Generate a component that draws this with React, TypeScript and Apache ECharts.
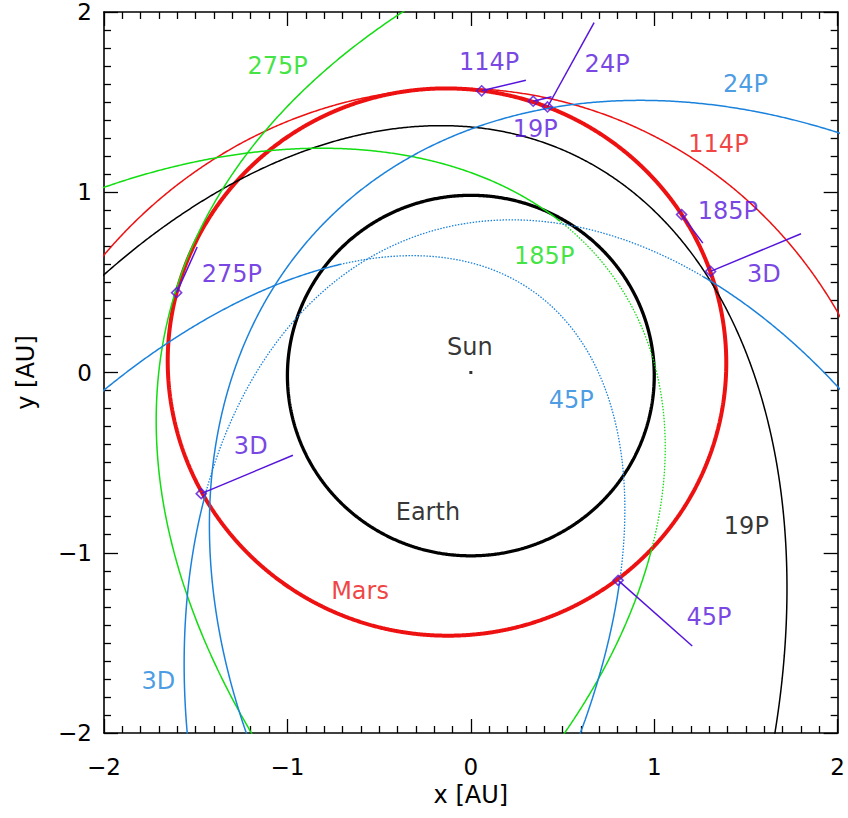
import React, { useEffect, useRef } from 'react';
import * as echarts from 'echarts';

// Orbit ellipses in the x-y plane [AU]:
// [centerX, centerY, semiAxis1, semiAxis2, tiltDeg]
const earthEllipse = [0.0, -0.017, 1.0, 1.0, 0];
const marsEllipse = [-0.130, 0.058, 1.5237, 1.517, 336];
const ellipse19P = [-1.0518, -2.4058, 2.5078, 3.9581, -22.8464];
const ellipse114P = [-0.1495, -1.0696, 2.4868, 2.6535, -12.192];
const ellipse275P = [7.8528, -2.3023, 4.8496, 9.8554, 74.0227];
const ellipse185P = [-1.8718, -1.349, 2.1836, 3.2483, -54.4309];
const ellipse24P = [1.889, -1.8172, 2.796, 3.7731, 44.6226];
const ellipse3D = [0.8313, -2.4575, 2.2456, 3.4072, 18.9166];
const ellipse45P = [-1.5255, -2.2249, 1.7924, 3.2613, -34.4998];

const cometEllipses = [ellipse19P, ellipse114P, ellipse275P, ellipse185P, ellipse24P, ellipse3D, ellipse45P];
const cometColors = ['#000000', '#ee1111', '#11dd11', '#11dd11', '#1a82dc', '#1a82dc', '#1a82dc'];
// heliocentric longitude range [deg] drawn dotted (null = all solid)
const dottedFromDeg = [null, null, null, -45, null, 23, -55];
const dottedToDeg = [null, null, null, 60, null, 204.5, 140];

// node markers (diamonds) and their direction lines
const nodeX = [0.059, 0.340, 0.418, 1.149, 1.307, -1.604, -1.470, 0.803];
const nodeY = [1.563, 1.505, 1.473, 0.876, 0.561, 0.443, -0.672, -1.153];
const nodeEndX = [0.300, 0.440, 0.672, 1.265, 1.800, -1.492, -0.970, 1.207];
const nodeEndY = [1.621, 1.530, 1.941, 0.718, 0.770, 0.696, -0.459, -1.517];

const nodeLabels = ['114P', '24P', '19P', '185P', '3D', '275P', '3D', '45P'];
const nodeLabelX = [0.10, 0.743, 0.351, 1.401, 1.597, -1.303, -1.20, 1.298];
const nodeLabelY = [1.72, 1.709, 1.351, 0.896, 0.546, 0.546, -0.408, -1.356];

const orbitLabels = ['275P', '24P', '114P', '185P', 'Sun', '45P', 'Earth', '19P', 'Mars', '3D'];
const orbitLabelX = [-1.053, 1.497, 1.35, 0.40, -0.005, 0.547, -0.234, 1.502, -0.604, -1.703];
const orbitLabelY = [1.698, 1.598, 1.268, 0.646, 0.144, -0.15, -0.774, -0.854, -1.212, -1.709];
const orbitLabelColors = ['#11dd11', '#1a82dc', '#ee1111', '#11dd11', '#000000', '#1a82dc', '#000000', '#000000', '#ee1111', '#1a82dc'];

const PURPLE = '#5514dc';
const FONT = 'DejaVu Sans';

function inArc(phi: number, from: number, to: number) {
  const span = (((to - from) % 360) + 360) % 360;
  const d = (((phi - from) % 360) + 360) % 360;
  return d < span;
}

function ellipseSegments(el: number[], from: number | null, to: number | null) {
  const [h, k, a, b, tdeg] = el;
  const th = (tdeg * Math.PI) / 180;
  const c = Math.cos(th), s = Math.sin(th);
  const N = 2000;
  const segs: { dotted: boolean; pts: number[][] }[] = [];
  let cur: { dotted: boolean; pts: number[][] } | null = null;
  for (let i = 0; i <= N; i++) {
    const t = (2 * Math.PI * i) / N;
    const x = h + a * Math.cos(t) * c - b * Math.sin(t) * s;
    const y = k + a * Math.cos(t) * s + b * Math.sin(t) * c;
    const phi = (Math.atan2(y, x) * 180) / Math.PI;
    const dotted = from !== null && to !== null ? inArc(phi, from, to) : false;
    if (!cur || cur.dotted !== dotted) {
      const last = cur ? cur.pts[cur.pts.length - 1] : null;
      cur = { dotted, pts: last ? [last] : [] };
      segs.push(cur);
    }
    cur.pts.push([x, y]);
  }
  return segs;
}

function fmt(v: number) {
  return v < 0 ? '\u2212' + Math.abs(v) : String(v);
}

export default function App() {
  const ref = useRef<HTMLDivElement>(null);
  useEffect(() => {
    const chart = echarts.init(ref.current!, null, { renderer: 'svg' });
    const series: any[] = [];
    const planet = (el: number[], color: string, width: number) => {
      ellipseSegments(el, null, null).forEach((sg) =>
        series.push({ type: 'line', data: sg.pts, showSymbol: false, symbol: 'none', lineStyle: { color, width }, silent: true, z: 2 })
      );
    };
    planet(earthEllipse, '#000', 3.3);
    planet(marsEllipse, '#ee1111', 4);
    cometEllipses.forEach((el, i) => {
      ellipseSegments(el, dottedFromDeg[i], dottedToDeg[i]).forEach((sg) =>
        series.push({
          type: 'line', data: sg.pts, showSymbol: false, symbol: 'none', silent: true, z: 3,
          lineStyle: { color: cometColors[i], width: sg.dotted ? 1.3 : 1.5, type: sg.dotted ? [1.5, 1.5] : 'solid' },
        })
      );
    });
    series.push({
      type: 'lines', coordinateSystem: 'cartesian2d', silent: true, z: 5,
      lineStyle: { color: PURPLE, width: 1.5, opacity: 1 },
      data: nodeX.map((x, i) => ({ coords: [[x, nodeY[i]], [nodeEndX[i], nodeEndY[i]]] })),
    });
    series.push({
      type: 'scatter', symbol: 'diamond', symbolSize: 10, silent: true, z: 6,
      itemStyle: { color: 'rgba(0,0,0,0)', borderColor: PURPLE, borderWidth: 1.6 },
      data: nodeX.map((x, i) => [x, nodeY[i]]),
    });
    series.push({
      type: 'scatter', symbol: 'rect', symbolSize: 3, silent: true, z: 6,
      itemStyle: { color: '#000' }, data: [[0, 0]],
    });
    series.push({
      type: 'scatter', symbolSize: 1, silent: true, z: 7, itemStyle: { color: 'rgba(0,0,0,0)' },
      data: nodeLabels.map((t, i) => ({ value: [nodeLabelX[i], nodeLabelY[i]], name: t })),
      label: { show: true, position: 'inside', formatter: (p: any) => p.name, color: PURPLE, fontSize: 24, fontFamily: FONT },
    });
    series.push({
      type: 'scatter', symbolSize: 1, silent: true, z: 7, itemStyle: { color: 'rgba(0,0,0,0)' },
      data: orbitLabels.map((t, i) => ({ value: [orbitLabelX[i], orbitLabelY[i]], name: t, label: { color: orbitLabelColors[i] } })),
      label: { show: true, position: 'inside', formatter: (p: any) => p.name, fontSize: 24, fontFamily: FONT },
    });

    const axisCommon = (show: boolean) => ({
      type: 'value', min: -2, max: 2, interval: 1,
      axisLine: { show: true, onZero: false, lineStyle: { color: '#000', width: 1.6 } },
      axisTick: { show: true, inside: true, length: 14, lineStyle: { color: '#000', width: 1.3 } },
      minorTick: { show: true, splitNumber: 10, length: 7, lineStyle: { color: '#000', width: 1.3 } },
      splitLine: { show: false },
      axisLabel: { show, formatter: fmt, color: '#000', fontSize: 23, fontFamily: FONT },
    });
    chart.setOption({
      animation: false,
      backgroundColor: '#fff',
      grid: { left: 104, top: 12, width: 735, height: 721 },
      xAxis: [
        { ...axisCommon(true), position: 'bottom', name: 'x [AU]', nameLocation: 'middle', nameGap: 47,
          nameTextStyle: { color: '#000', fontSize: 24, fontFamily: FONT },
          axisLabel: { ...axisCommon(true).axisLabel, margin: 22 } },
        { ...axisCommon(false), position: 'top' },
      ],
      yAxis: [
        { ...axisCommon(true), position: 'left', name: 'y [AU]', nameLocation: 'middle', nameGap: 66,
          nameTextStyle: { color: '#000', fontSize: 24, fontFamily: FONT },
          axisLabel: { ...axisCommon(true).axisLabel, margin: 12 } },
        { ...axisCommon(false), position: 'right' },
      ],
      series,
    });
    return () => chart.dispose();
  }, []);
  return <div ref={ref} style={{ position: 'absolute', left: 0, top: 0, width: 848, height: 818, background: '#fff' }} />;
}
